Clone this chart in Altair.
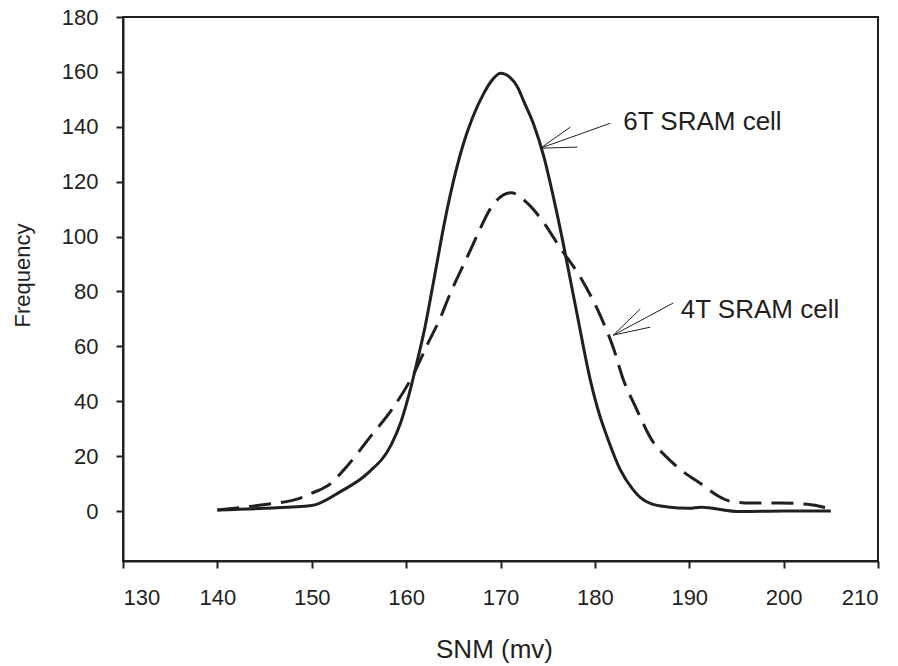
import altair as alt
import pandas as pd

# 6T SRAM cell (solid)
x_6t = [140, 145, 150, 153, 156, 158.4, 159.4, 160.5, 161.2, 162, 162.5, 163.3, 164, 165,
        166, 167, 168.2, 169, 170, 171, 171.8, 172.5, 173.5, 174.6, 175.5, 176.5, 177.3,
        178.1, 179.5, 180.5, 181.3, 182.7, 184, 184.8, 186, 187.7, 190, 191.2, 195.4, 200, 205]
y_6t = [0.4, 1.0, 2.0, 7, 14, 24, 32, 45, 55, 67, 76, 91, 104, 120,
        133, 143, 152, 156.5, 159.5, 158, 154.5, 149, 141, 129, 116, 100, 86,
        72, 48, 35, 27, 15, 8, 5, 2.6, 1.5, 1.0, 1.4, -0.2, 0, 0]

# 4T SRAM cell (dashed)
x_4t = [140, 144.6, 148.8, 150, 152, 153.4, 156.2, 158.7, 160.8, 162.3, 163.7, 164.4, 166.8,
        167.6, 168.9, 171.1, 172.9, 174.6, 176.3, 178.5, 180.6, 182, 183, 184.3, 186.2,
        187.5, 189.5, 191.2, 193, 194.3, 196.5, 199.6, 202.5, 204.6]
y_4t = [0.4, 2.2, 4.7, 6.5, 10, 15, 27, 38, 50, 61, 71, 77, 95,
        101, 110, 116, 112, 105, 96, 85, 71, 59, 48, 38, 25,
        20, 14, 10, 5.6, 3.6, 2.9, 2.9, 2.5, 1.1]

x_ticks = [130, 140, 150, 160, 170, 180, 190, 200, 210]
y_ticks = [0, 20, 40, 60, 80, 100, 120, 140, 160, 180]

# annotation labels and arrow segments (data coordinates)
label_text = ["6T SRAM cell", "4T SRAM cell"]
label_x = [183.0, 189.1]
label_y = [138.8, 70.3]

arrow_x = [174.23, 174.23, 174.23, 181.96, 181.96, 181.96]
arrow_y = [132.2, 132.2, 132.2, 64.1, 64.1, 64.1]
arrow_x2 = [181.64, 177.41, 178.15, 188.31, 184.81, 185.87]
arrow_y2 = [141.3, 139.9, 132.6, 75.8, 73.6, 67.0]

INK = "#231f20"
FONT = "Liberation Sans"

df6 = pd.DataFrame({"snm": x_6t, "freq": y_6t})
df4 = pd.DataFrame({"snm": x_4t, "freq": y_4t})
dfl = pd.DataFrame({"text": label_text, "x": label_x, "y": label_y})
dfa = pd.DataFrame({"x": arrow_x, "y": arrow_y, "x2": arrow_x2, "y2": arrow_y2})

xscale = alt.Scale(domain=[130, 210], nice=False, zero=False)
yscale = alt.Scale(domain=[-18.2, 180], nice=False, zero=False)

xaxis = alt.Axis(values=x_ticks, title="SNM (mv)", grid=False, tickSize=7, tickWidth=2,
                 tickColor=INK, domainColor=INK, domainWidth=2, labelFontSize=22,
                 labelFont=FONT, labelColor=INK, labelPadding=19, titleFont=FONT,
                 titleFontSize=26, titleFontWeight="normal", titleColor=INK,
                 titleX=371, titleY=96, titleBaseline="alphabetic", titleAlign="center")
yaxis = alt.Axis(values=y_ticks, title="Frequency", grid=False, tickSize=7, tickWidth=2,
                 tickColor=INK, domainColor=INK, domainWidth=2, labelFontSize=22,
                 labelFont=FONT, labelColor=INK, labelPadding=18, titleFont=FONT,
                 titleFontSize=22, titleFontWeight="normal", titleColor=INK,
                 titleX=-101, titleY=258, titleBaseline="middle", titleAlign="center",
                 titleAngle=270)

solid = alt.Chart(df6).mark_line(interpolate="monotone", strokeWidth=3, color=INK).encode(
    x=alt.X("snm:Q", scale=xscale, axis=xaxis),
    y=alt.Y("freq:Q", scale=yscale, axis=yaxis),
    order="snm:Q",
)
dashed = alt.Chart(df4).mark_line(interpolate="monotone", strokeWidth=3, color=INK,
                                  strokeDash=[22, 10]).encode(
    x=alt.X("snm:Q", scale=xscale),
    y=alt.Y("freq:Q", scale=yscale),
    order="snm:Q",
)
arrows = alt.Chart(dfa).mark_rule(strokeWidth=1, color=INK).encode(
    x=alt.X("x:Q", scale=xscale), y=alt.Y("y:Q", scale=yscale),
    x2="x2:Q", y2="y2:Q",
)
labels = alt.Chart(dfl).mark_text(align="left", baseline="alphabetic", fontSize=26,
                                  font=FONT, color=INK).encode(
    x=alt.X("x:Q", scale=xscale), y=alt.Y("y:Q", scale=yscale), text="text:N",
)

chart = alt.layer(solid, dashed, arrows, labels).properties(
    width=755, height=544,
    autosize=alt.AutoSizeParams(type="none"),
    padding={"left": 123, "top": 17, "right": 20, "bottom": 105},
    background="white",
).configure_view(stroke=INK, strokeWidth=2)

chart.save("out.html", embed_options={"renderer": "svg", "actions": False})
